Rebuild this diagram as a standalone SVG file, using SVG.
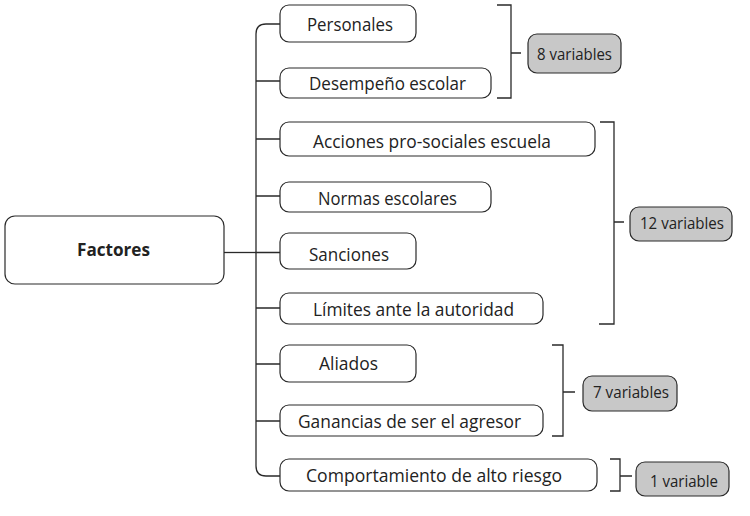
<svg xmlns="http://www.w3.org/2000/svg" width="750" height="516" viewBox="0 0 750 516">
<style>
.box{fill:#fff;stroke:#2a2a2a;stroke-width:1.2}
.var{fill:#c8c8c8;stroke:#2a2a2a;stroke-width:1.2}
.t{font-family:"Open Sans","Noto Sans",sans-serif;font-size:17.5px;fill:#222;text-anchor:middle}
.s{font-size:17px}
.b{font-weight:bold}
.ln{fill:none;stroke:#2a2a2a;stroke-width:1.3}
</style>
<rect width="750" height="516" fill="#fff"/>
<g id="connectors">
<path class="ln" d="M224 252.5H256"/>
<path class="ln" d="M280 24H266Q256 24 256 34V466Q256 476 266 476H280"/>
<path class="ln" d="M256 81H280M256 139H280M256 196H280M256 252.5H280M256 308H280M256 364H280M256 421H280"/>
<path class="ln" d="M497 5H511V98H497M511 53H521"/>
<path class="ln" d="M600 122H614V324H599M614 222H624"/>
<path class="ln" d="M552 345H563V436H552M563 392H575"/>
<path class="ln" d="M610 459H620V491H610M620 476H632"/>
</g>
<g id="factores"><rect class="box" x="5" y="216" width="219" height="68" rx="10"/><text class="t b" x="113.5" y="256" textLength="73" lengthAdjust="spacingAndGlyphs">Factores</text></g>
<g id="personales"><rect class="box" x="280" y="5" width="136" height="37" rx="9"/><text class="t" x="350" y="30.5" textLength="86" lengthAdjust="spacingAndGlyphs">Personales</text></g>
<g id="desempeno"><rect class="box" x="280" y="68" width="211" height="30" rx="9"/><text class="t" x="387.5" y="90" textLength="157" lengthAdjust="spacingAndGlyphs">Desempeño escolar</text></g>
<g id="acciones"><rect class="box" x="280" y="122" width="315" height="34" rx="9"/><text class="t" x="432" y="148" textLength="238" lengthAdjust="spacingAndGlyphs">Acciones pro-sociales escuela</text></g>
<g id="normas"><rect class="box" x="280" y="182" width="211" height="30" rx="9"/><text class="t" x="387.5" y="205" textLength="139" lengthAdjust="spacingAndGlyphs">Normas escolares</text></g>
<g id="sanciones"><rect class="box" x="280" y="233" width="136" height="36" rx="9"/><text class="t" x="349" y="261" textLength="80" lengthAdjust="spacingAndGlyphs">Sanciones</text></g>
<g id="limites"><rect class="box" x="280" y="293" width="263" height="31" rx="9"/><text class="t" x="413.5" y="316" textLength="201" lengthAdjust="spacingAndGlyphs">Límites ante la autoridad</text></g>
<g id="aliados"><rect class="box" x="280" y="345" width="136" height="37" rx="9"/><text class="t" x="348.5" y="370" textLength="59" lengthAdjust="spacingAndGlyphs">Aliados</text></g>
<g id="ganancias"><rect class="box" x="280" y="405" width="263" height="31" rx="9"/><text class="t" x="409.5" y="428" textLength="223" lengthAdjust="spacingAndGlyphs">Ganancias de ser el agresor</text></g>
<g id="comportamiento"><rect class="box" x="280" y="459" width="317" height="32" rx="9"/><text class="t" x="434" y="482" textLength="256" lengthAdjust="spacingAndGlyphs">Comportamiento de alto riesgo</text></g>
<g id="v8"><rect class="var" x="528" y="34" width="93" height="39" rx="9"/><text class="t s" x="574.5" y="60" textLength="75" lengthAdjust="spacingAndGlyphs">8 variables</text></g>
<g id="v12"><rect class="var" x="630" y="207" width="102" height="34" rx="9"/><text class="t s" x="682" y="229" textLength="84" lengthAdjust="spacingAndGlyphs">12 variables</text></g>
<g id="v7"><rect class="var" x="583" y="376" width="94" height="35" rx="9"/><text class="t s" x="631" y="398" textLength="76" lengthAdjust="spacingAndGlyphs">7 variables</text></g>
<g id="v1"><rect class="var" x="636" y="462" width="93" height="34" rx="9"/><text class="t s" x="684" y="487" textLength="68" lengthAdjust="spacingAndGlyphs">1 variable</text></g>
</svg>
